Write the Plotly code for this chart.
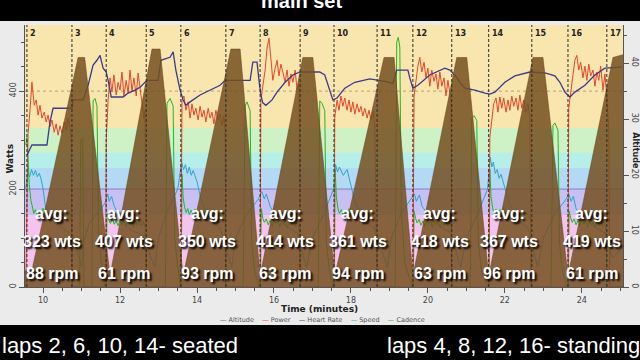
import plotly.graph_objects as go

# ---------------- data ----------------
lap_numbers = ["2", "3", "4", "5", "6", "7", "8", "9", "10", "11", "12", "13", "14", "15", "16", "17"]
lap_times = [9.58, 10.75, 11.64, 12.68, 13.58, 14.75, 15.64, 16.68, 17.56, 18.68,
             19.61, 20.62, 21.58, 22.70, 23.64, 24.65]

avg_watts = [323, 407, 350, 414, 361, 418, 367, 419]
avg_rpm = [88, 61, 93, 63, 94, 63, 96, 61]

x_ticks = [10, 12, 14, 16, 18, 20, 22, 24]
watt_ticks = [0, 200, 400]
alt_ticks = [0, 10, 20, 30, 40]

# altitude (right axis)
alt_t = [9.53, 9.68, 10.91, 11.08, 11.74, 12.83, 13.04, 13.64, 14.88, 15.12, 15.64,
         16.75, 17.01, 17.58, 18.86, 19.12, 19.61, 20.75, 21.01, 21.58, 22.73, 22.99,
         23.64, 24.81, 25.07]
alt_v = [3, 2, 41, 41, 2, 42.5, 42.5, 2, 42.5, 42.5, 2,
         41, 41, 2, 41, 41, 2, 41, 41, 2, 41, 41,
         2, 41, 41.5]

# heart rate (drawn on the watts scale)
hr_t = [9.58, 9.71, 10.10, 10.18, 10.26, 10.75, 10.78, 11.04, 11.17, 11.30, 11.40, 11.48,
        11.56, 11.64, 11.69, 11.77, 12.08, 12.21, 12.39, 12.52, 12.70, 12.99, 13.06, 13.30,
        13.38, 13.45, 13.56, 13.64, 13.71, 13.82, 14.08, 14.34, 14.60, 14.73, 15.38, 15.45,
        15.56, 15.61, 15.66, 15.71, 15.79, 15.95, 16.08, 16.29, 16.49, 16.68, 17.19, 17.32,
        17.45, 17.53, 17.64, 17.84, 18.10, 18.49, 18.88, 19.09, 19.19, 19.48, 19.53, 19.61,
        19.74, 20.05, 20.44, 20.57, 20.70, 20.83, 20.96, 21.22, 21.48, 21.61, 21.74, 22.00,
        22.26, 22.65, 23.04, 23.30, 23.43, 23.56, 23.69, 23.82, 24.08, 24.34, 24.60, 25.04]
hr_v = [269, 290, 290, 337, 365, 365, 382, 382, 412, 453, 463, 473,
        447, 439, 422, 388, 388, 396, 402, 408, 422, 422, 463, 469,
        480, 443, 402, 382, 371, 378, 392, 402, 412, 422, 422, 459,
        459, 422, 392, 376, 371, 382, 398, 418, 433, 439, 439, 433,
        402, 382, 386, 406, 418, 425, 420, 416, 443, 443, 427, 406,
        412, 433, 447, 443, 433, 418, 406, 402, 396, 394, 398, 418,
        431, 439, 437, 431, 418, 398, 388, 398, 412, 433, 447, 449]

# power
pw_t = [9.55, 9.61, 9.66, 9.71, 9.77, 9.82, 9.87, 9.92, 9.97, 10.03, 10.08, 10.13, 10.18,
        10.23, 10.29, 10.34, 10.39, 10.44, 10.49, 10.55, 10.60, 10.65, 10.70, 10.73, 10.75,
        11.63, 11.64, 11.69, 11.74, 11.79, 11.84, 11.90, 11.95, 12.00, 12.05, 12.10, 12.16,
        12.21, 12.26, 12.31, 12.36, 12.42, 12.47, 12.52, 12.57, 12.62, 12.65, 12.68,
        13.58, 13.61, 13.66, 13.71, 13.77, 13.82, 13.87, 13.92, 13.97, 14.03, 14.08, 14.13,
        14.18, 14.23, 14.29, 14.34, 14.39, 14.44, 14.49, 14.55, 14.60, 14.65, 14.70, 14.73, 14.75,
        15.64, 15.66, 15.71, 15.77, 15.82, 15.87, 15.92, 15.97, 16.03, 16.08, 16.13, 16.18,
        16.23, 16.29, 16.34, 16.39, 16.44, 16.49, 16.55, 16.60, 16.65, 16.68,
        17.56, 17.58, 17.64, 17.69, 17.74, 17.79, 17.84, 17.90, 17.95, 18.00, 18.05, 18.10,
        18.16, 18.21, 18.26, 18.31, 18.36, 18.42, 18.47, 18.52, 18.57, 18.62, 18.68,
        19.61, 19.64, 19.69, 19.74, 19.79, 19.84, 19.90, 19.95, 20.00, 20.05, 20.10, 20.16,
        20.21, 20.26, 20.31, 20.36, 20.42, 20.47, 20.52, 20.57, 20.60, 20.62,
        21.58, 21.61, 21.66, 21.71, 21.77, 21.82, 21.87, 21.92, 21.97, 22.03, 22.08, 22.13,
        22.18, 22.23, 22.29, 22.34, 22.39, 22.44, 22.49, 22.55, 22.60, 22.65, 22.68,
        23.64, 23.66, 23.71, 23.77, 23.82, 23.87, 23.92, 23.97, 24.03, 24.08, 24.13, 24.18,
        24.23, 24.29, 24.34, 24.39, 24.44, 24.49, 24.55, 24.60, 24.65, 24.70, 24.73, 25.07]
pw_v = [0, 314, 361, 418, 371, 382, 351, 371, 345, 357, 337, 351, 327,
        341, 316, 333, 310, 329, 314, 337, 320, 345, 325, 300, 0,
        0, 300, 382, 427, 398, 433, 392, 418, 402, 439, 390, 422,
        396, 443, 400, 427, 390, 437, 402, 378, 345, 361, 0,
        0, 382, 390, 361, 378, 345, 374, 351, 365, 341, 369, 347,
        361, 337, 365, 345, 357, 333, 361, 341, 353, 329, 349, 320, 0,
        0, 382, 410, 443, 488, 508, 467, 422, 447, 463, 431, 455,
        439, 418, 443, 410, 435, 418, 443, 402, 414, 0,
        0, 347, 382, 361, 390, 369, 386, 361, 382, 357, 378, 353,
        374, 357, 369, 349, 365, 345, 361, 341, 357, 333, 0,
        0, 390, 422, 451, 469, 439, 459, 427, 447, 410, 443, 420,
        435, 404, 439, 410, 427, 390, 422, 398, 382, 0,
        0, 306, 345, 374, 386, 357, 388, 365, 386, 357, 382, 361,
        390, 369, 386, 361, 392, 365, 382, 357, 374, 349, 0,
        0, 365, 402, 433, 463, 473, 443, 459, 427, 451, 422, 455,
        431, 443, 410, 439, 422, 451, 402, 435, 390, 324, 0, 0]

# cadence (drawn on the watts scale)
cad_t = [9.55, 9.58, 9.61, 9.64, 9.68, 9.72, 9.76, 9.80, 9.85, 9.90, 9.95, 10.00, 10.05, 10.10,
         10.15, 10.20, 10.25, 10.30, 10.35, 10.40, 10.45, 10.50, 10.55, 10.60, 10.65, 10.70, 10.74, 10.76,
         10.95, 10.98, 11.03, 11.06, 11.27, 11.30, 11.35, 11.40, 11.44, 11.50, 11.60,
         11.64, 11.66, 11.70, 11.75, 11.80, 11.85, 11.90, 11.95, 12.00, 12.05, 12.10, 12.15, 12.20,
         12.25, 12.30, 12.35, 12.40, 12.45, 12.50, 12.55, 12.60, 12.66, 12.68,
         13.18, 13.22, 13.30, 13.38, 13.42, 13.50, 13.57,
         13.59, 13.61, 13.64, 13.68, 13.72, 13.76, 13.80, 13.85, 13.90, 13.95, 14.00, 14.05, 14.10,
         14.15, 14.20, 14.25, 14.30, 14.35, 14.40, 14.45, 14.50, 14.55, 14.60, 14.65, 14.70, 14.73, 14.75,
         15.20, 15.25, 15.30, 15.38, 15.42, 15.50, 15.62,
         15.65, 15.67, 15.71, 15.75, 15.80, 15.85, 15.90, 15.95, 16.00, 16.05, 16.10, 16.15, 16.20,
         16.25, 16.30, 16.35, 16.40, 16.45, 16.50, 16.55, 16.60, 16.65, 16.68,
         17.15, 17.19, 17.25, 17.32, 17.36, 17.45, 17.54,
         17.57, 17.59, 17.62, 17.66, 17.70, 17.75, 17.80, 17.85, 17.90, 17.95, 18.00, 18.05, 18.10,
         18.15, 18.20, 18.25, 18.30, 18.35, 18.40, 18.45, 18.50, 18.55, 18.60, 18.65, 18.68,
         19.15, 19.19, 19.23, 19.27, 19.31, 19.40, 19.59,
         19.62, 19.64, 19.68, 19.72, 19.77, 19.82, 19.87, 19.92, 19.97, 20.02, 20.07, 20.12, 20.17,
         20.22, 20.27, 20.32, 20.37, 20.42, 20.47, 20.52, 20.57, 20.60, 20.62,
         21.10, 21.14, 21.20, 21.27, 21.31, 21.40, 21.56,
         21.59, 21.61, 21.64, 21.68, 21.72, 21.77, 21.82, 21.87, 21.92, 21.97, 22.02, 22.07, 22.12,
         22.17, 22.22, 22.27, 22.32, 22.37, 22.42, 22.47, 22.52, 22.57, 22.62, 22.67, 22.70,
         23.20, 23.25, 23.30, 23.38, 23.42, 23.50, 23.62,
         23.65, 23.67, 23.71, 23.75, 23.80, 23.85, 23.90, 23.95, 24.00, 24.05, 24.10, 24.15, 24.20,
         24.25, 24.30, 24.35, 24.40, 24.45, 24.50, 24.55, 24.60, 24.63, 24.65, 25.07]
cad_v = [290, 305, 260, 210, 178, 160, 150, 158, 146, 155, 148, 161, 150, 157,
         145, 154, 147, 158, 149, 155, 144, 153, 147, 156, 145, 150, 140, 0,
         0, 300, 305, 0, 0, 380, 385, 370, 120, 60, 0,
         0, 150, 138, 130, 140, 128, 135, 125, 138, 127, 135, 124, 137,
         128, 134, 122, 136, 126, 133, 125, 135, 120, 0,
         0, 375, 385, 370, 100, 40, 0,
         0, 230, 182, 162, 152, 160, 148, 157, 146, 159, 150, 156, 144,
         155, 148, 160, 147, 154, 143, 152, 149, 157, 146, 153, 144, 138, 0,
         0, 370, 378, 360, 90, 30, 0,
         0, 160, 140, 132, 139, 127, 136, 124, 138, 129, 134, 123, 137,
         127, 135, 121, 133, 127, 136, 124, 132, 118, 0,
         0, 380, 375, 360, 90, 30, 0,
         0, 240, 186, 161, 150, 158, 146, 157, 149, 160, 147, 155, 145,
         158, 150, 156, 144, 154, 148, 159, 146, 152, 143, 138, 0,
         0, 500, 510, 490, 150, 50, 0,
         0, 155, 140, 131, 138, 126, 135, 124, 137, 128, 133, 122, 136,
         127, 134, 121, 135, 125, 132, 124, 130, 118, 0,
         0, 345, 350, 340, 90, 30, 0,
         0, 240, 185, 162, 151, 159, 147, 158, 150, 161, 148, 156, 146,
         157, 149, 155, 145, 153, 147, 158, 145, 151, 144, 137, 0,
         0, 330, 335, 320, 90, 30, 0,
         0, 155, 141, 132, 139, 127, 136, 125, 137, 128, 134, 122, 136,
         126, 133, 121, 134, 125, 131, 123, 129, 117, 0, 0]

# speed (drawn on the watts scale)
sp_t = [9.55, 9.60, 9.65, 9.70, 9.75, 9.80, 9.85, 9.90, 9.95, 10.00, 10.05, 10.10, 10.20, 10.30,
        10.50, 10.70, 10.80, 11.00, 11.05, 11.20, 11.40, 11.60,
        11.68, 11.72, 11.78, 11.85, 11.95, 12.10, 12.30, 12.60, 12.90, 13.00, 13.20, 13.50,
        13.60, 13.65, 13.70, 13.75, 13.80, 13.85, 13.90, 14.00, 14.10, 14.30, 14.60, 14.90,
        15.00, 15.30, 15.60,
        15.68, 15.75, 15.80, 15.90, 16.00, 16.30, 16.60, 16.85, 17.00, 17.30, 17.55,
        17.60, 17.65, 17.70, 17.80, 17.90, 18.00, 18.10, 18.30, 18.60, 18.95, 19.05, 19.30, 19.58,
        19.65, 19.70, 19.78, 19.85, 20.00, 20.30, 20.60, 20.85, 21.00, 21.30, 21.55,
        21.62, 21.66, 21.70, 21.75, 21.80, 21.85, 21.90, 22.00, 22.10, 22.30, 22.60, 22.85,
        23.00, 23.30, 23.60,
        23.66, 23.72, 23.78, 23.85, 24.00, 24.30, 24.60, 24.80, 25.05]
sp_v = [200, 235, 225, 240, 228, 238, 225, 232, 220, 200, 170, 150, 140, 130,
        120, 110, 100, 40, 90, 130, 150, 170,
        190, 175, 185, 165, 150, 130, 115, 105, 40, 100, 150, 200,
        255, 240, 250, 232, 245, 228, 238, 215, 180, 140, 120, 40,
        100, 150, 180,
        195, 180, 190, 165, 150, 125, 110, 40, 100, 150, 200,
        250, 235, 245, 228, 240, 210, 175, 140, 120, 40, 100, 150, 180,
        190, 175, 188, 165, 148, 125, 110, 40, 100, 150, 200,
        265, 245, 255, 232, 240, 222, 230, 200, 175, 140, 120, 40,
        100, 150, 180,
        190, 175, 185, 160, 145, 125, 110, 60, 80]

# power-zone background bands (watts)
zone_low = [0, 147, 200, 243, 275, 325]
zone_high = [147, 200, 243, 275, 325, 535]
zone_colors = ["#f3c4ef", "#c7c0f2", "#b3d9f5", "#b6eeea", "#cef2c5", "#f9e5ae"]

# ---------------- figure ----------------
fig = go.Figure()

fig.add_trace(go.Scatter(x=alt_t, y=alt_v, yaxis="y2", mode="lines", fill="tozeroy",
                         line=dict(color="rgba(105,70,30,0.9)", width=0.6),
                         fillcolor="rgba(118,80,34,0.86)", name="Altitude"))
fig.add_trace(go.Scatter(x=sp_t, y=sp_v, mode="lines", line=dict(color="#2aa8c4", width=1),
                         name="Speed"))
fig.add_trace(go.Scatter(x=cad_t, y=cad_v, mode="lines", line=dict(color="#22b822", width=1),
                         name="Cadence"))
fig.add_trace(go.Scatter(x=pw_t, y=pw_v, mode="lines", line=dict(color="#e8452a", width=1),
                         name="Power"))
fig.add_trace(go.Scatter(x=hr_t, y=hr_v, mode="lines", line=dict(color="#3a3a8c", width=1.3),
                         name="Heart Rate"))

shapes = []
for lo, hi, c in zip(zone_low, zone_high, zone_colors):
    shapes.append(dict(type="rect", xref="paper", yref="y", x0=0, x1=1, y0=lo, y1=hi,
                       fillcolor=c, line=dict(width=0), layer="below"))
shapes.append(dict(type="line", xref="paper", yref="y", x0=0, x1=1, y0=400, y1=400,
                   line=dict(color="#b3a27a", width=1, dash="dot"), layer="below"))
shapes.append(dict(type="line", xref="paper", yref="y", x0=0, x1=1, y0=200, y1=200,
                   line=dict(color="#8c7cc8", width=1), layer="below"))
for t in lap_times:
    shapes.append(dict(type="line", xref="x", yref="paper", x0=t, x1=t, y0=0, y1=1,
                       line=dict(color="#2a2a2a", width=1, dash="3px,2px"), layer="above"))
# black video bars
shapes.append(dict(type="rect", xref="paper", yref="paper", x0=-0.1, x1=1.1, y0=1.0153, y1=1.2,
                   fillcolor="black", line=dict(width=0), layer="above"))
shapes.append(dict(type="rect", xref="paper", yref="paper", x0=-0.1, x1=1.1, y0=-0.4, y1=-0.145,
                   fillcolor="black", line=dict(width=0), layer="above"))

annotations = []
for t, lab in zip(lap_times, lap_numbers):
    annotations.append(dict(x=t, y=1, xref="x", yref="paper", text=lab, showarrow=False,
                            xanchor="left", yanchor="top", xshift=1, yshift=-2,
                            font=dict(size=8, color="#222", family="DejaVu Sans", weight="bold")))

text_x = [10.23, 12.10, 14.26, 16.29, 18.18, 20.31, 22.10, 24.26]
big_font = dict(size=16, color="white", family="Liberation Sans, Arial, sans-serif",
                weight="bold", shadow="2px 2px 2px #000")
for x, w, r in zip(text_x, avg_watts, avg_rpm):
    annotations.append(dict(x=x, y=151, xref="x", yref="y", text="avg:", showarrow=False, font=big_font))
    annotations.append(dict(x=x, y=92, xref="x", yref="y", text=f"{w} wts", showarrow=False, font=big_font))
    annotations.append(dict(x=x, y=27, xref="x", yref="y", text=f"{r} rpm", showarrow=False, font=big_font))

# axis titles, legend line
annotations.append(dict(x=0.493, y=-0.084, xref="paper", yref="paper", text="Time (minutes)",
                        showarrow=False, xanchor="center", yanchor="middle",
                        font=dict(size=9, color="#222", family="DejaVu Sans", weight="bold")))
annotations.append(dict(x=-0.0251, y=0.49, xref="paper", yref="paper", text="Watts",
                        textangle=-90, showarrow=False, xanchor="center", yanchor="middle",
                        font=dict(size=9, color="#222", family="DejaVu Sans", weight="bold")))
annotations.append(dict(x=(635.5 - 25) / 598, y=0.52, xref="paper", yref="paper", textangle=90,
                        xanchor="center", yanchor="middle",
                        text="Altitude", showarrow=False,
                        font=dict(size=8, color="#222", family="DejaVu Sans", weight="bold")))
legend_text = ("<span style='color:#7a5a30'>—</span> Altitude    "
               "<span style='color:#e8452a'>—</span> Power    "
               "<span style='color:#3a3a8c'>—</span> Heart Rate    "
               "<span style='color:#2aa8c4'>—</span> Speed    "
               "<span style='color:#22b822'>—</span> Cadence")
annotations.append(dict(x=0.498, y=-0.126, xref="paper", yref="paper", text=legend_text,
                        showarrow=False, xanchor="center", yanchor="middle",
                        font=dict(size=6.5, color="#555", family="DejaVu Sans")))

video_font = dict(size=22, color="white", family="Liberation Sans, Arial, sans-serif")
annotations.append(dict(x=-0.0418, y=-0.225, xref="paper", yref="paper", xanchor="left",
                        yanchor="middle", text="laps 2, 6, 10, 14- seated", showarrow=False,
                        font=video_font))
annotations.append(dict(x=(385 - 25) / 598, y=-0.225, xref="paper", yref="paper", xanchor="left",
                        yanchor="middle", text="laps 4, 8, 12, 16- standing", showarrow=False,
                        font=video_font))
annotations.append(dict(x=0.463, y=1.0916, xref="paper", yref="paper", xanchor="center",
                        yanchor="middle", text="main set", showarrow=False,
                        font=dict(size=20, color="white", weight="bold",
                                  family="Liberation Sans, Arial, sans-serif")))

axis_common = dict(showline=True, linecolor="#555", linewidth=1, ticks="outside", ticklen=5,
                   tickcolor="#555", showgrid=False, zeroline=False, automargin=False,
                   tickfont=dict(size=8, color="#444", family="DejaVu Sans"))

fig.update_layout(
    width=640, height=360,
    margin=dict(l=25, r=17, t=25, b=73, autoexpand=False),
    paper_bgcolor="#ebebeb", plot_bgcolor="#f9e5ae",
    showlegend=False,
    shapes=shapes, annotations=annotations,
    xaxis=dict(range=[9.53, 25.07], tickvals=x_ticks,
               minor=dict(dtick=0.5, ticks="outside", ticklen=3, tickcolor="#555"),
               **axis_common),
    yaxis=dict(range=[0, 535], tickvals=watt_ticks, tickangle=-90,
               minor=dict(dtick=50, ticks="outside", ticklen=3, tickcolor="#555"),
               **axis_common),
    yaxis2=dict(range=[0, 46.8], tickvals=alt_ticks, tickangle=90, overlaying="y", side="right",
                minor=dict(dtick=5, ticks="outside", ticklen=3, tickcolor="#555"),
                **axis_common),
)

fig.write_html("out.html")
